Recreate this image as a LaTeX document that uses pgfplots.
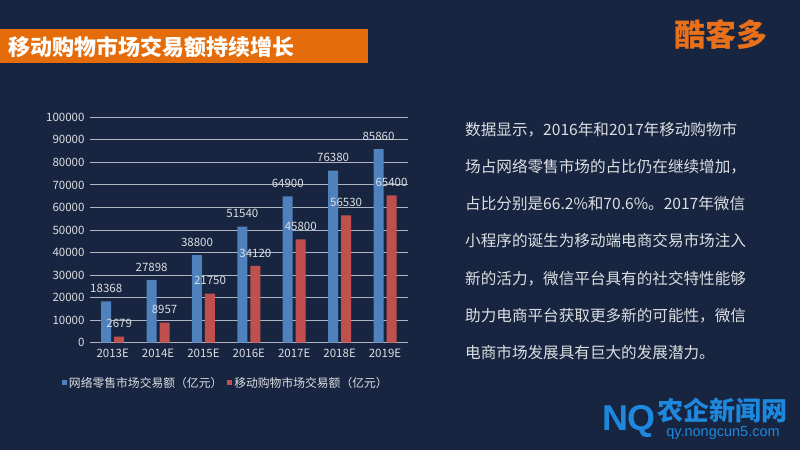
\documentclass[border=0pt]{standalone}
\usepackage{fontspec}
\usepackage{pgfplots}
\pgfplotsset{compat=1.18}
\setmainfont{Noto Sans CJK SC}
\newfontfamily\lib{Liberation Sans}
\definecolor{bg}{RGB}{23,37,64}
\definecolor{titleor}{RGB}{228,108,10}
\definecolor{logoor}{RGB}{232,112,26}
\definecolor{barblue}{RGB}{79,129,189}
\definecolor{barred}{RGB}{192,80,77}
\definecolor{gridc}{RGB}{175,182,194}
\definecolor{txt}{RGB}{220,222,226}
\definecolor{wmblue}{RGB}{30,136,222}
\begin{document}
\begin{tikzpicture}[x=1bp,y=1bp]
\useasboundingbox (0,0) rectangle (800,450);
\fill[bg] (0,0) rectangle (800,450);
% title bar
\fill[titleor] (0,386.7) rectangle (368,420.7);
\node[anchor=west, inner sep=0, text=white, font=\fontsize{22bp}{24bp}\selectfont\bfseries] at (8,402.5) {移动购物市场交易额持续增长};
% logo
\node[inner sep=0, text=logoor, font=\fontsize{31bp}{33bp}\selectfont\bfseries] at (720.5,415) {酷客多};
% right text
\begin{scope}[every node/.style={anchor=base west, inner sep=0, text=txt, font=\fontsize{15.6bp}{18bp}\selectfont}]
\node at (465,314.6) {数据显示，2016年和2017年移动购物市};
\node at (465,277.4) {场占网络零售市场的占比仍在继续增加，};
\node at (465,240.2) {占比分别是66.2\%和70.6\%。2017年微信};
\node at (465,203.0) {小程序的诞生为移动端电商交易市场注入};
\node at (465,165.8) {新的活力，微信平台具有的社交特性能够};
\node at (465,128.6) {助力电商平台获取更多新的可能性，微信};
\node at (465,91.4) {电商市场发展具有巨大的发展潜力。};
\end{scope}
% bottom-right site mark
\node[inner sep=0, text=wmblue, font=\lib\fontsize{36bp}{38bp}\selectfont\bfseries] at (629,29) {NQ};
\node[inner sep=0, text=wmblue, font=\fontsize{26bp}{28bp}\selectfont\bfseries] at (722.5,39.5) {农企新闻网};
\node[inner sep=0, text=wmblue, font=\lib\fontsize{14.5bp}{16bp}\selectfont] at (723,16.5) {qy.nongcun5.com};
\begin{axis}[
  at={(90bp,107.3bp)}, anchor=south west,
  scale only axis, width=317.7bp, height=225.4bp,
  xmin=-0.5, xmax=6.5, ymin=0, ymax=100000,
  ytick={0,10000,20000,30000,40000,50000,60000,70000,80000,90000,100000},
  yticklabels={0,10000,20000,30000,40000,50000,60000,70000,80000,90000,100000},
  xtick={0,...,6},
  xticklabels={2013E,2014E,2015E,2016E,2017E,2018E,2019E},
  axis line style={draw=none},
  major tick length=0pt,
  ymajorgrids, grid style={color=gridc, line width=0.9bp},
  scaled y ticks=false,
  ticklabel style={text=txt, font=\fontsize{11.5bp}{13bp}\selectfont},
  yticklabel style={xshift=-2bp},
  xticklabel style={yshift=-3bp},
  ybar=3bp, bar width=10bp,
  point meta=explicit symbolic,
  nodes near coords,
  every node near coord/.append style={text=txt, font=\fontsize{11.5bp}{13bp}\selectfont, yshift=5bp},
  legend columns=2,
  legend style={at={(0.4276,-0.1788)}, anchor=center, draw=none, fill=none,
    text=txt, font=\fontsize{11.8bp}{13bp}\selectfont,
    /tikz/every even column/.append style={column sep=3bp}},
  legend image code/.code={\fill[#1] (0bp,-2.5bp) rectangle (5bp,2.5bp);},
]
\addplot[fill=barblue, draw=none] coordinates {(0,18368) [18368] (1,27898) [27898] (2,38800) [38800] (3,51540) [51540] (4,64900) [64900] (5,76380) [76380] (6,85860) [85860]};
\addplot[fill=barred, draw=none] coordinates {(0,2679) [2679] (1,8957) [8957] (2,21750) [21750] (3,34120) [34120] (4,45800) [45800] (5,56530) [56530] (6,65400) [65400]};
\legend{网络零售市场交易额（亿元）,移动购物市场交易额（亿元）}
\end{axis}
\end{tikzpicture}
\end{document}
